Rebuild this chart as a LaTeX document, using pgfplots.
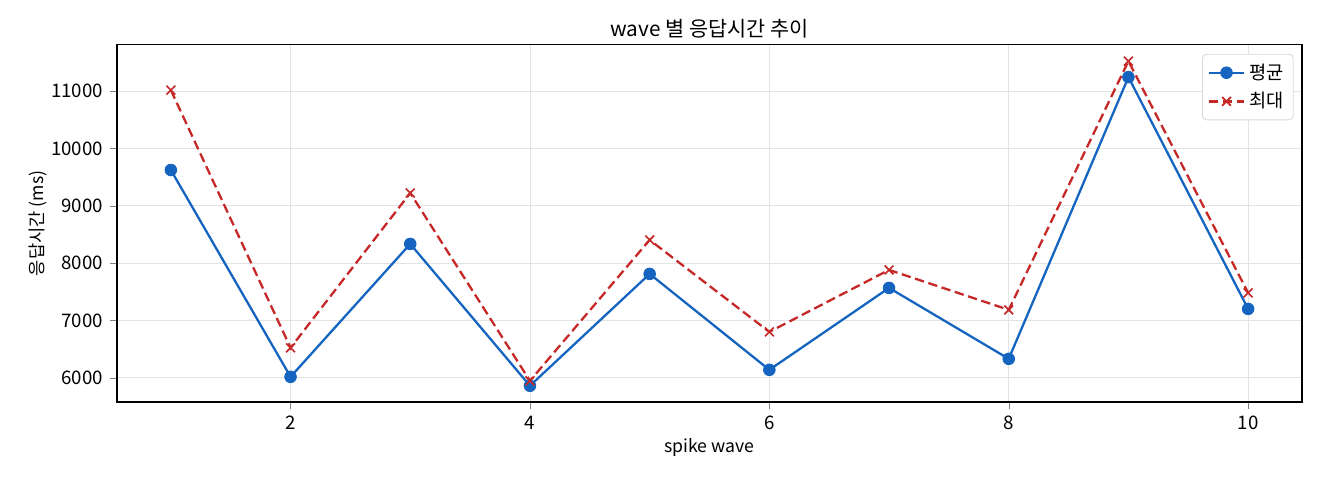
\documentclass[border=0pt]{standalone}
\usepackage{fontspec}
\setmainfont{Noto Sans CJK KR}
\usepackage{pgfplots}
\pgfplotsset{compat=1.18}
\definecolor{avgblue}{HTML}{1565C0}
\definecolor{maxred}{HTML}{C62828}
\begin{document}
\fontsize{9}{11}\selectfont
\begin{tikzpicture}
\path[use as bounding box] (-56.16bp,-37.44bp) rectangle (577.44bp,192.96bp);
\begin{axis}[
    scale only axis,
    width=568.8bp, height=171.4bp,
    xmin=0.55, xmax=10.45,
    ymin=5578, ymax=11806,
    xtick={2,4,6,8,10},
    ytick={6000,7000,8000,9000,10000,11000},
    tick align=outside,
    tick pos=left,
    major tick length=3.5bp,
    grid=major,
    grid style={gray!22, line width=0.4bp},
    axis line style={line width=0.5bp},
    /pgf/number format/assume math mode=true,
    scaled y ticks=false,
    y tick label style={/pgf/number format/.cd, fixed, 1000 sep={}},
    tick label style={font=\fontsize{9}{11}\selectfont},
    title={wave 별 응답시간 추이},
    title style={font=\fontsize{10}{12}\selectfont, yshift=-6bp},
    xlabel={spike wave},
    xlabel style={yshift=2bp},
    ylabel={응답시간 (ms)},
    ylabel style={yshift=-4bp},
    label style={font=\fontsize{8.5}{10}\selectfont},
    legend cell align=left,
    legend style={draw=gray!30, rounded corners=2bp, font=\fontsize{9}{11}\selectfont,
        at={(0.993,0.975)}, anchor=north east, inner sep=2.5bp,
        row sep=1bp},
]
\addplot[color=avgblue, line width=1.1bp, mark=*, mark size=2.8bp,
    mark options={line width=0.4bp}] coordinates {
    (1, 9624) (2, 6017) (3, 8335) (4, 5861) (5, 7812)
    (6, 6139) (7, 7568) (8, 6331) (9, 11244) (10, 7202)
};
\addlegendentry{평균}
\addplot[color=maxred, line width=1.1bp, dash pattern=on 4.5bp off 2.2bp,
    mark=x, mark size=3bp, mark options={solid, line width=0.8bp}] coordinates {
    (1, 11017) (2, 6523) (3, 9223) (4, 5948) (5, 8404)
    (6, 6801) (7, 7882) (8, 7185) (9, 11523) (10, 7481)
};
\addlegendentry{최대}
\end{axis}
\end{tikzpicture}
\end{document}
